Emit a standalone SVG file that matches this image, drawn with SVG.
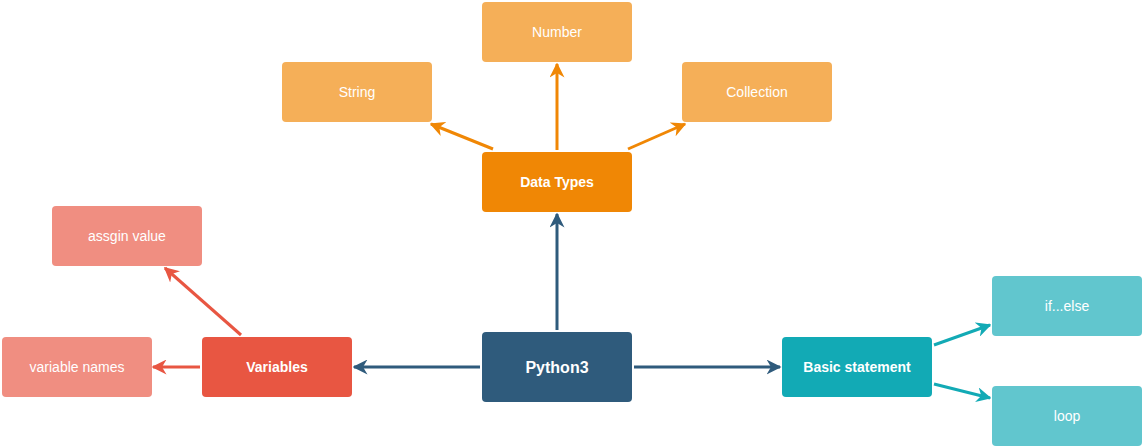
<svg xmlns="http://www.w3.org/2000/svg" width="1144" height="447" viewBox="0 0 1144 447">
<style>
text{font-family:"Liberation Sans",Arial,sans-serif;fill:#fff;text-anchor:middle;dominant-baseline:central}
.b{font-weight:bold;font-size:14px}
.r{font-size:14px}
.c{fill:none;stroke-width:3}
</style>
<defs>
<marker id="aB" viewBox="0 0 10 10" refX="9" refY="5" markerWidth="5" markerHeight="5" orient="auto" markerUnits="strokeWidth"><path d="M0,0 L10,5 L0,10 L3,5 Z" fill="#2f5b7c"/></marker>
<marker id="aO" viewBox="0 0 10 10" refX="9" refY="5" markerWidth="5" markerHeight="5" orient="auto" markerUnits="strokeWidth"><path d="M0,0 L10,5 L0,10 L3,5 Z" fill="#f08705"/></marker>
<marker id="aR" viewBox="0 0 10 10" refX="9" refY="5" markerWidth="5" markerHeight="5" orient="auto" markerUnits="strokeWidth"><path d="M0,0 L10,5 L0,10 L3,5 Z" fill="#e85642"/></marker>
<marker id="aT" viewBox="0 0 10 10" refX="9" refY="5" markerWidth="5" markerHeight="5" orient="auto" markerUnits="strokeWidth"><path d="M0,0 L10,5 L0,10 L3,5 Z" fill="#12aab5"/></marker>
</defs>
<g id="connectors">
<line class="c" stroke="#2f5b7c" x1="557" y1="330" x2="557" y2="214" marker-end="url(#aB)"/>
<line class="c" stroke="#2f5b7c" x1="480" y1="367" x2="354" y2="367" marker-end="url(#aB)"/>
<line class="c" stroke="#2f5b7c" x1="634" y1="367" x2="780" y2="367" marker-end="url(#aB)"/>
<line class="c" stroke="#f08705" x1="493" y1="149" x2="431" y2="124" marker-end="url(#aO)"/>
<line class="c" stroke="#f08705" x1="557" y1="150" x2="557" y2="64" marker-end="url(#aO)"/>
<line class="c" stroke="#f08705" x1="628" y1="149" x2="685" y2="124" marker-end="url(#aO)"/>
<line class="c" stroke="#e85642" x1="241" y1="335" x2="165" y2="268" marker-end="url(#aR)"/>
<line class="c" stroke="#e85642" x1="200" y1="367" x2="153" y2="367" marker-end="url(#aR)"/>
<line class="c" stroke="#12aab5" x1="934" y1="345" x2="990" y2="325" marker-end="url(#aT)"/>
<line class="c" stroke="#12aab5" x1="934" y1="384" x2="990" y2="398" marker-end="url(#aT)"/>
</g>
<g id="python3"><rect x="482" y="332" width="150" height="70" rx="4" fill="#2f5b7c"/><text x="557" y="367" style="font-weight:bold;font-size:16px">Python3</text></g>
<g id="datatypes"><rect x="482" y="152" width="150" height="60" rx="4" fill="#f08705"/><text class="b" x="557" y="182">Data Types</text></g>
<g id="number"><rect x="482" y="2" width="150" height="60" rx="4" fill="#f5af58"/><text class="r" x="557" y="32">Number</text></g>
<g id="string"><rect x="282" y="62" width="150" height="60" rx="4" fill="#f5af58"/><text class="r" x="357" y="92">String</text></g>
<g id="collection"><rect x="682" y="62" width="150" height="60" rx="4" fill="#f5af58"/><text class="r" x="757" y="92">Collection</text></g>
<g id="variables"><rect x="202" y="337" width="150" height="60" rx="4" fill="#e85642"/><text class="b" x="277" y="367">Variables</text></g>
<g id="varnames"><rect x="2" y="337" width="150" height="60" rx="4" fill="#f08e81"/><text class="r" x="77" y="367">variable names</text></g>
<g id="assgin"><rect x="52" y="206" width="150" height="60" rx="4" fill="#f08e81"/><text class="r" x="127" y="236">assgin value</text></g>
<g id="basic"><rect x="782" y="337" width="150" height="60" rx="4" fill="#12aab5"/><text class="b" x="857" y="367">Basic statement</text></g>
<g id="ifelse"><rect x="992" y="276" width="150" height="60" rx="4" fill="#61c6ce"/><text class="r" x="1067" y="306">if...else</text></g>
<g id="loop"><rect x="992" y="386" width="150" height="60" rx="4" fill="#61c6ce"/><text class="r" x="1067" y="416">loop</text></g>
</svg>
